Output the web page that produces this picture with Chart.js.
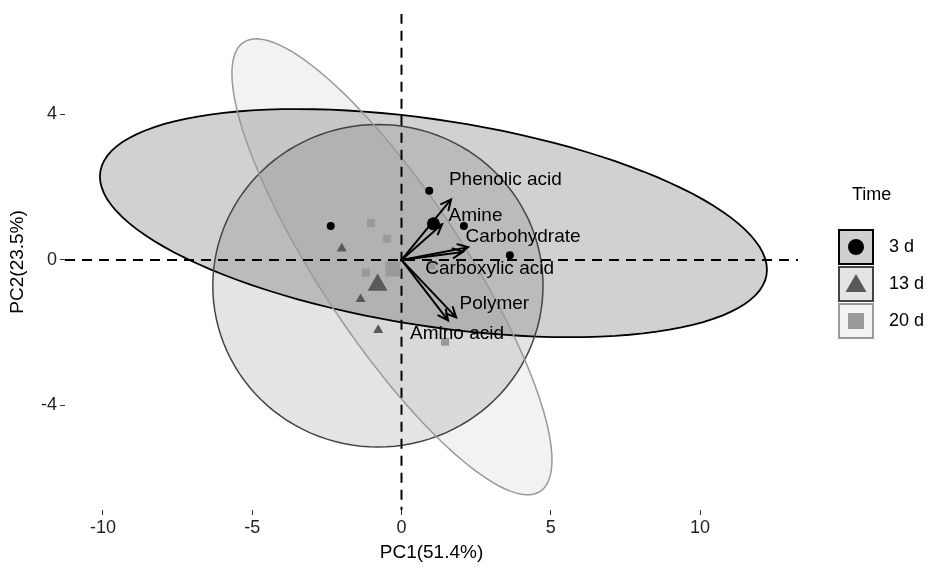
<!DOCTYPE html>
<html>
<head>
<meta charset="utf-8">
<script src="https://cdn.jsdelivr.net/npm/chart.js@4.4.1/dist/chart.umd.min.js"></script>
<style>
  html, body { margin: 0; padding: 0; background: #fff; }
</style>
</head>
<body>
<canvas id="chart" width="928" height="573"></canvas>
<script>
'use strict';

// sample scores (PC1, PC2) per sampling time
const groupNames = ['3 d', '13 d', '20 d'];
const scoresX3 = [-2.37, 0.93, 2.09, 3.63];
const scoresY3 = [0.93, 1.90, 0.93, 0.13];
const scoresX13 = [-2.00, -1.37, -0.78];
const scoresY13 = [0.31, -1.08, -1.93];
const scoresX20 = [-1.02, -0.48, -1.19, 1.46, 0.99];
const scoresY20 = [1.01, 0.58, -0.35, -2.25, -0.15];

// group centroids
const meanX = [1.07, -0.80, -0.29];
const meanY = [0.99, -0.69, -0.25];

// confidence ellipses: centre and two conjugate semi-axes (PC units)
const ellipseCX = [1.07, -0.79, -0.32];
const ellipseCY = [1.01, -0.71, -0.19];
const ellipseUX = [11.17, 5.53, 5.36];
const ellipseUY = [-1.28, 0, -5.31];
const ellipseVX = [0, 0, 0];
const ellipseVY = [2.86, 4.43, 3.32];

// loadings (arrows) and where their labels sit
const loadNames = ['Phenolic acid', 'Amine', 'Carbohydrate', 'Carboxylic acid', 'Polymer', 'Amino acid'];
const loadX = [1.66, 1.36, 2.23, 2.06, 1.83, 1.56];
const loadY = [1.66, 0.98, 0.35, 0.22, -1.58, -1.66];
const labelX = [3.48, 2.48, 4.07, 2.95, 3.11, 1.86];
const labelY = [2.21, 1.20, 0.63, -0.25, -1.21, -2.04];

const xTicks = [-10, -5, 0, 5, 10];
const yTicks = [-4, 0, 4];

const fontName = '"Liberation Sans", Arial, sans-serif';
const pointColors = ['#000000', '#595959', '#9a9a9a'];
const pointStyles = ['circle', 'triangle', 'rect'];
const ellipseFill = ['rgba(0,0,0,0.18)', 'rgba(0,0,0,0.105)', 'rgba(0,0,0,0.05)'];
const ellipseLine = ['#000000', '#444444', '#999999'];
const legendFill = ['#cfcfcf', '#e4e4e4', '#f3f3f3'];

function toPoints(xs, ys) {
  let pts = [];
  for (let i = 0; i < xs.length; i++) {
    pts.push({ x: xs[i], y: ys[i] });
  }
  return pts;
}

const ellipsePlugin = {
  id: 'ellipses',
  beforeDatasetsDraw(chart) {
    const ctx = chart.ctx;
    const xs = chart.scales.x;
    const ys = chart.scales.y;
    const area = chart.chartArea;
    ctx.save();
    ctx.beginPath();
    ctx.rect(area.left, area.top, area.right - area.left, area.bottom - area.top);
    ctx.clip();
    for (let g = 0; g < ellipseCX.length; g++) {
      ctx.beginPath();
      for (let k = 0; k <= 120; k++) {
        let t = k / 120 * Math.PI * 2;
        let px = ellipseCX[g] + ellipseUX[g] * Math.cos(t) + ellipseVX[g] * Math.sin(t);
        let py = ellipseCY[g] + ellipseUY[g] * Math.cos(t) + ellipseVY[g] * Math.sin(t);
        let sx = xs.getPixelForValue(px);
        let sy = ys.getPixelForValue(py);
        if (k === 0) ctx.moveTo(sx, sy); else ctx.lineTo(sx, sy);
      }
      ctx.closePath();
      ctx.fillStyle = ellipseFill[g];
      ctx.fill();
      ctx.lineWidth = g === 0 ? 1.8 : 1.5;
      ctx.strokeStyle = ellipseLine[g];
      ctx.stroke();
    }
    // zero lines
    ctx.setLineDash([10, 7]);
    ctx.lineWidth = 2;
    ctx.strokeStyle = '#000';
    let x0 = xs.getPixelForValue(0);
    let y0 = ys.getPixelForValue(0);
    ctx.beginPath();
    ctx.moveTo(x0, area.top);
    ctx.lineTo(x0, area.bottom);
    ctx.moveTo(area.left, y0);
    ctx.lineTo(area.right, y0);
    ctx.stroke();
    ctx.restore();
  }
};

const arrowPlugin = {
  id: 'arrows',
  afterDatasetsDraw(chart) {
    const ctx = chart.ctx;
    const xs = chart.scales.x;
    const ys = chart.scales.y;
    let ox = xs.getPixelForValue(0);
    let oy = ys.getPixelForValue(0);
    ctx.save();
    ctx.strokeStyle = '#000';
    ctx.lineWidth = 2;
    ctx.lineCap = 'round';
    for (let i = 0; i < loadNames.length; i++) {
      let tx = xs.getPixelForValue(loadX[i]);
      let ty = ys.getPixelForValue(loadY[i]);
      let ang = Math.atan2(ty - oy, tx - ox);
      ctx.beginPath();
      ctx.moveTo(ox, oy);
      ctx.lineTo(tx, ty);
      ctx.moveTo(tx - 11 * Math.cos(ang - 0.45), ty - 11 * Math.sin(ang - 0.45));
      ctx.lineTo(tx, ty);
      ctx.lineTo(tx - 11 * Math.cos(ang + 0.45), ty - 11 * Math.sin(ang + 0.45));
      ctx.stroke();
    }
    ctx.fillStyle = '#000';
    ctx.font = '19px ' + fontName;
    ctx.textAlign = 'center';
    ctx.textBaseline = 'middle';
    for (let i = 0; i < loadNames.length; i++) {
      ctx.fillText(loadNames[i], xs.getPixelForValue(labelX[i]), ys.getPixelForValue(labelY[i]));
    }
    ctx.restore();
  }
};

const legendPlugin = {
  id: 'timeLegend',
  afterDraw(chart) {
    const ctx = chart.ctx;
    ctx.save();
    ctx.fillStyle = '#000';
    ctx.font = '18px ' + fontName;
    ctx.textBaseline = 'middle';
    ctx.textAlign = 'left';
    ctx.fillText('Time', 852, 195);
    let left = 838;
    let size = 36;
    for (let g = 0; g < groupNames.length; g++) {
      let top = 229 + g * 37;
      ctx.fillStyle = legendFill[g];
      ctx.fillRect(left, top, size, size);
      ctx.lineWidth = 2;
      ctx.strokeStyle = ellipseLine[g];
      ctx.strokeRect(left + 1, top + 1, size - 2, size - 2);
      let cx = left + size / 2;
      let cy = top + size / 2;
      ctx.fillStyle = pointColors[g];
      ctx.beginPath();
      if (g === 0) {
        ctx.arc(cx, cy, 8, 0, Math.PI * 2);
      } else if (g === 1) {
        ctx.moveTo(cx, cy - 10);
        ctx.lineTo(cx + 10.5, cy + 8);
        ctx.lineTo(cx - 10.5, cy + 8);
        ctx.closePath();
      } else {
        ctx.rect(cx - 8, cy - 8, 16, 16);
      }
      ctx.fill();
      ctx.fillStyle = '#000';
      ctx.fillText(groupNames[g], 889, cy);
    }
    ctx.restore();
  }
};

const tickFont = { family: fontName, size: 18 };
const titleFont = { family: fontName, size: 19 };

new Chart(document.getElementById('chart'), {
  type: 'scatter',
  data: {
    datasets: [
      {
        label: groupNames[0], data: toPoints(scoresX3, scoresY3),
        pointStyle: pointStyles[0], pointRadius: 4, backgroundColor: pointColors[0], borderWidth: 0
      },
      {
        label: groupNames[1], data: toPoints(scoresX13, scoresY13),
        pointStyle: pointStyles[1], pointRadius: 5.8, backgroundColor: pointColors[1], borderWidth: 0
      },
      {
        label: groupNames[2], data: toPoints(scoresX20, scoresY20),
        pointStyle: pointStyles[2], pointRadius: 5.7, backgroundColor: pointColors[2], borderWidth: 0
      },
      {
        label: 'centroid', data: toPoints(meanX, meanY),
        pointStyle: pointStyles, pointRadius: [6.5, 11.5, 10.6], backgroundColor: pointColors, borderWidth: 0
      }
    ]
  },
  options: {
    responsive: false,
    animation: false,
    events: [],
    layout: { padding: { top: 10, right: 130, left: 0, bottom: 0 } },
    plugins: { legend: { display: false }, tooltip: { enabled: false } },
    scales: {
      x: {
        type: 'linear', min: -11.27, max: 13.28,
        afterBuildTicks: (s) => { s.ticks = xTicks.map(v => ({ value: v })); },
        afterFit: (s) => { s.height = 63; },
        grid: { drawOnChartArea: false, drawTicks: true, tickLength: 5, color: '#333' },
        border: { display: false },
        ticks: { font: tickFont, color: '#222', padding: 2, maxRotation: 0 },
        title: { display: true, text: 'PC1(51.4%)', font: titleFont, color: '#000', padding: { top: 0, bottom: 9 } }
      },
      y: {
        type: 'linear', min: -6.87, max: 6.76,
        afterBuildTicks: (s) => { s.ticks = yTicks.map(v => ({ value: v })); },
        afterFit: (s) => { s.width = 65; },
        grid: { drawOnChartArea: false, drawTicks: true, tickLength: 5, color: '#333' },
        border: { display: false },
        ticks: { font: tickFont, color: '#222', padding: 3 },
        title: { display: true, text: 'PC2(23.5%)', font: titleFont, color: '#000', padding: { top: 6, bottom: 0 } }
      }
    }
  },
  plugins: [ellipsePlugin, arrowPlugin, legendPlugin]
});
</script>
</body>
</html>
